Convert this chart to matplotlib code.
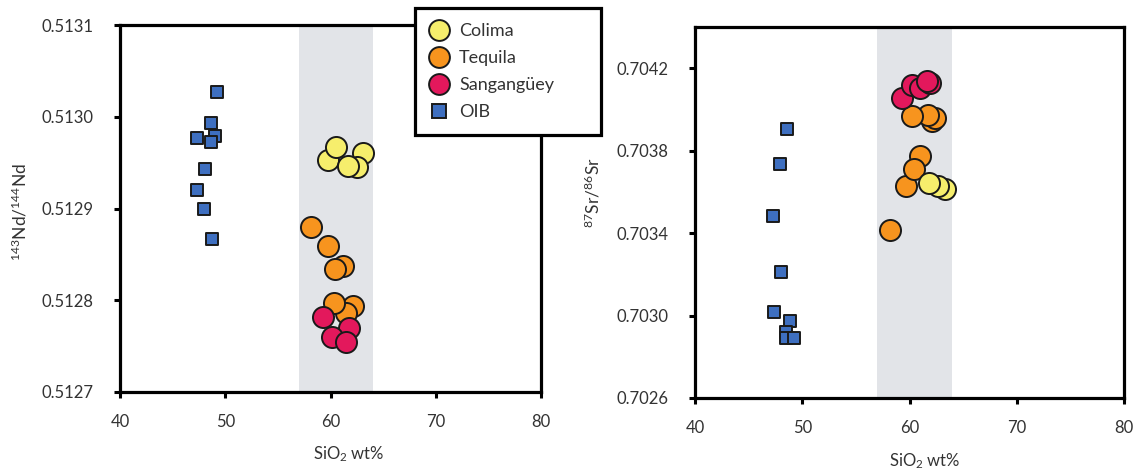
#!/usr/bin/env python3
"""Nd and Sr isotope ratios against SiO2 for the three volcanoes and OIB."""

import matplotlib

matplotlib.use("Agg")
import matplotlib.pyplot as plt
from matplotlib.lines import Line2D
from matplotlib.ticker import FixedLocator, FormatStrFormatter

plt.rcParams["font.family"] = ["Lato", "DejaVu Sans"]
plt.rcParams["mathtext.fontset"] = "custom"
plt.rcParams["mathtext.rm"] = "Lato"
plt.rcParams["mathtext.it"] = "Lato:italic"
plt.rcParams["mathtext.bf"] = "Lato:bold"

# 143Nd/144Nd panel
colima_sio2_nd = [59.8, 60.5, 63.1, 62.5, 61.7]
colima_nd = [0.512953, 0.512967, 0.512961, 0.512945, 0.512946]
tequila_sio2_nd = [58.1, 59.8, 61.2, 60.4, 62.1, 61.5, 60.3]
tequila_nd = [0.512880, 0.512859, 0.512837, 0.512834, 0.512794, 0.512786, 0.512797]
sanganguey_sio2_nd = [59.3, 61.8, 60.1, 61.5]
sanganguey_nd = [0.512782, 0.512770, 0.512760, 0.512754]
oib_sio2_nd = [49.2, 48.6, 47.3, 49.0, 48.6, 48.1, 47.3, 48.0, 48.7]
oib_nd = [0.513027, 0.512993, 0.512977, 0.512979, 0.512972, 0.512943, 0.512920, 0.512900, 0.512867]

# 87Sr/86Sr panel
colima_sio2_sr = [63.3, 62.7, 61.8]
colima_sr = [0.703612, 0.703628, 0.703645]
tequila_sio2_sr = [58.2, 59.7, 61.0, 60.4, 62.1, 62.4, 61.75, 60.2]
tequila_sr = [0.703416, 0.703629, 0.703774, 0.703710, 0.703943, 0.703959, 0.703975, 0.703967]
sanganguey_sio2_sr = [59.3, 60.2, 61.0, 61.9, 61.6]
sanganguey_sr = [0.704056, 0.704120, 0.704104, 0.704128, 0.704136]
oib_sio2_sr = [48.6, 47.9, 47.3, 48.0, 47.4, 48.9, 48.5, 48.5, 49.2]
oib_sr = [0.703907, 0.703733, 0.703485, 0.703209, 0.703016, 0.702975, 0.702919, 0.702892, 0.702892]

# intermediate SiO2 window shaded on both panels
band_sio2 = (57.0, 64.0)

nd_ticks = [0.5127, 0.5128, 0.5129, 0.5130, 0.5131]
sr_ticks = [0.7026, 0.7030, 0.7034, 0.7038, 0.7042]
sio2_ticks = [40, 50, 60, 70, 80]

COLORS = {
    "Colima": "#f6ee6c",
    "Tequila": "#f7941e",
    "Sangangüey": "#e3185c",
    "OIB": "#3e6fc0",
}
EDGE = "#1a1a1a"
CIRCLE_SIZE = 230
SQUARE_SIZE = 80


def draw_panel(ax, series, yticks, ylim, ylabel, xlabel_pos, ylabel_pos):
    ax.axvspan(*band_sio2, color="#e2e4e8", lw=0, zorder=0)
    for name, xs, ys in series:
        marker = "s" if name == "OIB" else "o"
        size = SQUARE_SIZE if name == "OIB" else CIRCLE_SIZE
        ax.scatter(xs, ys, s=size, marker=marker, facecolor=COLORS[name],
                   edgecolor=EDGE, linewidth=1.4, zorder=3)

    ax.set_xlim(40, 80)
    ax.set_ylim(*ylim)
    ax.xaxis.set_major_locator(FixedLocator(sio2_ticks))
    ax.yaxis.set_major_locator(FixedLocator(yticks))
    ax.yaxis.set_major_formatter(FormatStrFormatter("%.4f"))
    for spine in ax.spines.values():
        spine.set_linewidth(2.3)
        spine.set_color("black")
    ax.tick_params(axis="both", direction="out", length=4, width=2.2,
                   labelsize=12, colors="black", labelcolor="#333333")
    ax.tick_params(axis="y", pad=15)
    ax.tick_params(axis="x", pad=12)

    ax.set_xlabel("SiO$_2$ wt%", fontsize=12, color="#333333")
    ax.xaxis.set_label_coords(*xlabel_pos)
    ax.set_ylabel(ylabel, fontsize=12.5, color="#333333")
    ax.yaxis.set_label_coords(*ylabel_pos)


fig = plt.figure(figsize=(11.38, 4.70), dpi=100)
ax_nd = fig.add_axes([120 / 1138, 78 / 470, 421 / 1138, 367 / 470])
ax_sr = fig.add_axes([695 / 1138, 72 / 470, 429 / 1138, 371 / 470])

draw_panel(
    ax_nd,
    [("Tequila", tequila_sio2_nd, tequila_nd),
     ("Sangangüey", sanganguey_sio2_nd, sanganguey_nd),
     ("Colima", colima_sio2_nd, colima_nd),
     ("OIB", oib_sio2_nd, oib_nd)],
    nd_ticks, (0.5127, 0.5131),
    r"$^{143}$Nd/$^{144}$Nd", (0.543, -0.143), (-0.216, 0.49),
)
draw_panel(
    ax_sr,
    [("Tequila", tequila_sio2_sr, tequila_sr),
     ("Sangangüey", sanganguey_sio2_sr, sanganguey_sr),
     ("Colima", colima_sio2_sr, colima_sr),
     ("OIB", oib_sio2_sr, oib_sr)],
    sr_ticks, (0.7026, 0.7044),
    r"$^{87}$Sr/$^{86}$Sr", (0.536, -0.145), (-0.215, 0.553),
)

handles = []
for name in ["Colima", "Tequila", "Sangangüey", "OIB"]:
    marker = "s" if name == "OIB" else "o"
    msize = 10 if name == "OIB" else 15
    handles.append(Line2D([], [], linestyle="none", marker=marker, markersize=msize,
                          markerfacecolor=COLORS[name], markeredgecolor=EDGE,
                          markeredgewidth=1.4, label=name))

legend = fig.legend(
    handles=handles, loc="upper left",
    bbox_to_anchor=(415 / 1138, 337 / 470, 186 / 1138, 125 / 470),
    mode="expand", borderaxespad=0, fontsize=13, frameon=True, fancybox=False,
    edgecolor="black", framealpha=1, handlelength=1.0, handletextpad=0.6,
    labelspacing=0.6, borderpad=0.85,
)
legend.get_frame().set_linewidth(2.3)
for text in legend.get_texts():
    text.set_color("#333333")

fig.savefig("out.png", dpi=100, facecolor="white")
